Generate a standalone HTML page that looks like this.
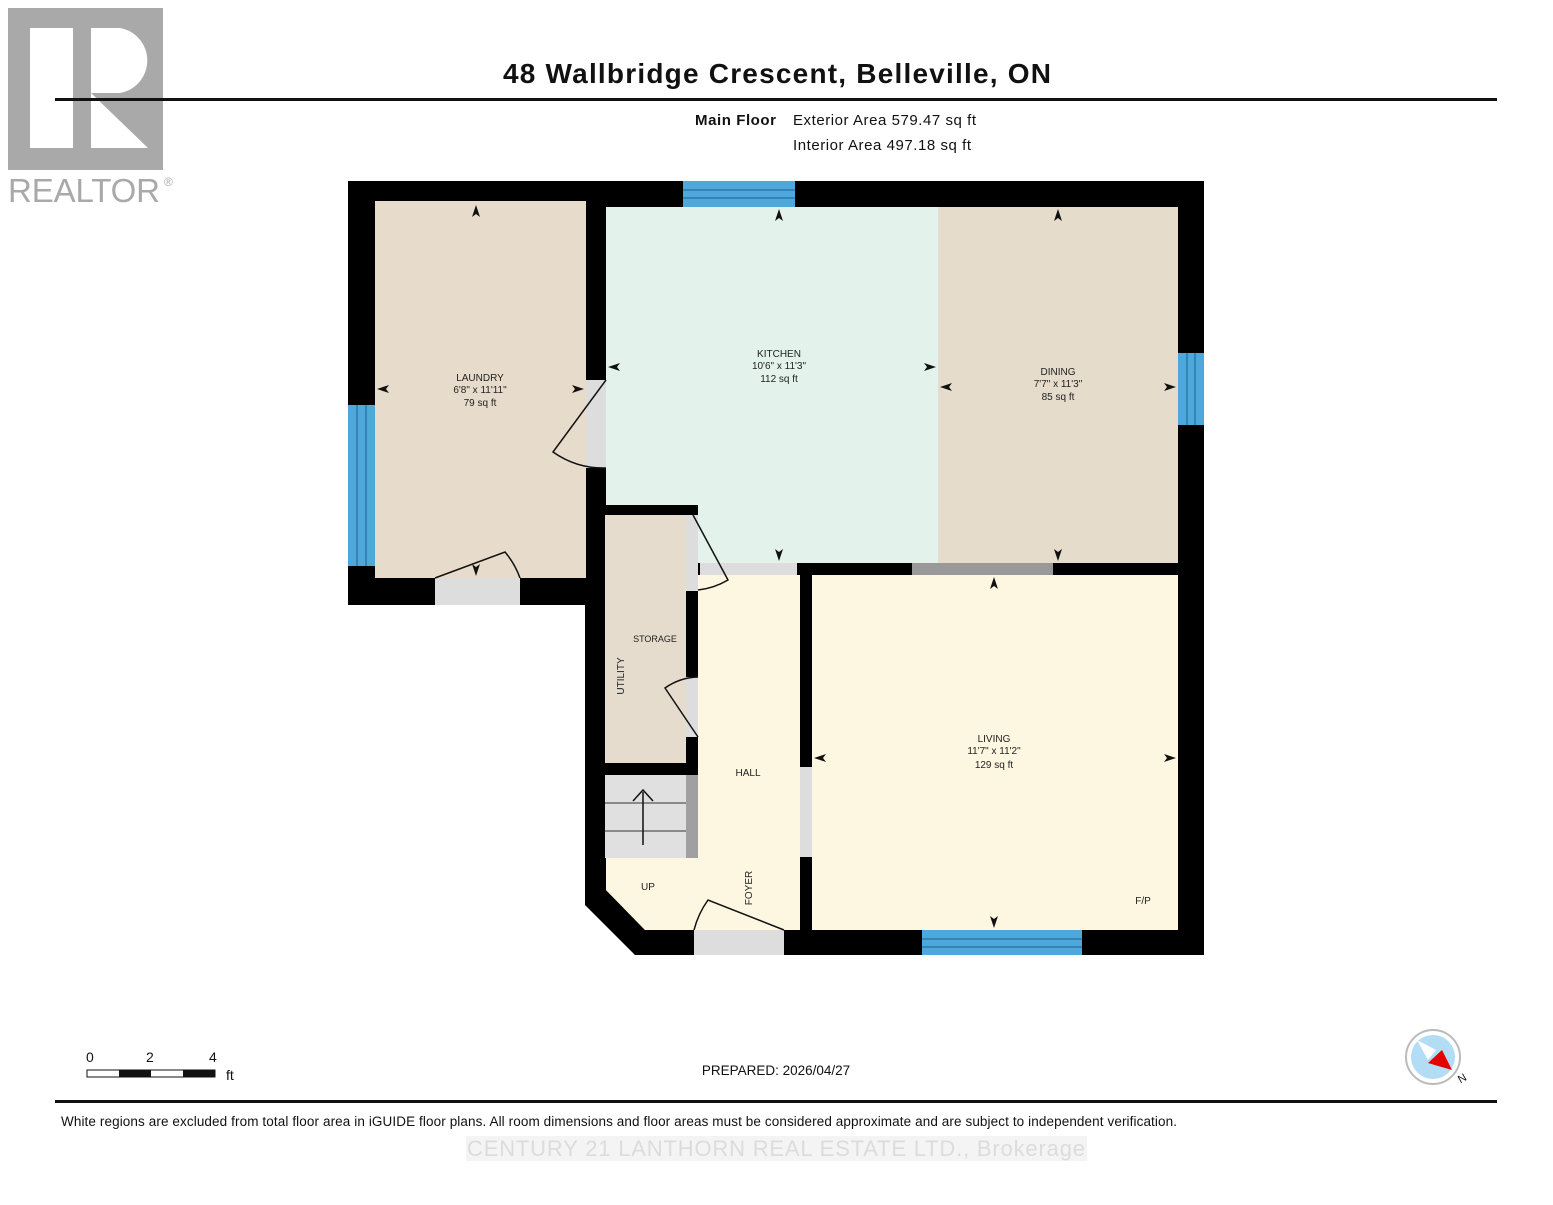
<!DOCTYPE html>
<html><head><meta charset="utf-8"><style>
body{margin:0;background:#fff;width:1553px;height:1200px;overflow:hidden;font-family:"Liberation Sans",Arial,sans-serif}
</style></head><body>
<svg width="1553" height="1200" xmlns="http://www.w3.org/2000/svg" font-family="Liberation Sans, Arial, sans-serif">
<!-- logo -->
<rect x="8" y="8" width="155" height="162" fill="#a9a9a9"/>
<rect x="30" y="28" width="43" height="120" fill="#fff"/>
<path d="M91 28 H120 A33 33 0 0 1 120 93 H91 Z" fill="#fff"/>
<path d="M91 93 L148 148 H91 Z" fill="#fff"/>
<text x="8" y="202" font-size="33" fill="#a9a9a9" textLength="152">REALTOR</text>
<text x="164" y="186" font-size="12" fill="#a9a9a9">®</text>
<text x="777" y="83" font-size="28" font-weight="bold" text-anchor="middle" fill="#111" textLength="548">48 Wallbridge Crescent, Belleville, ON</text>
<rect x="55" y="98" width="1442" height="3" fill="#111"/>
<text x="695" y="125" font-size="15" font-weight="bold" fill="#111" textLength="81">Main Floor</text>
<text x="793" y="125" font-size="15" fill="#111" textLength="183">Exterior Area 579.47 sq ft</text>
<text x="793" y="150" font-size="15" fill="#111" textLength="178">Interior Area 497.18 sq ft</text>
<!-- walls background -->
<rect x="348" y="181" width="856" height="26" fill="#000"/>
<rect x="348" y="181" width="27" height="424" fill="#000"/>
<rect x="348" y="578" width="258" height="27" fill="#000"/>
<rect x="1178" y="181" width="26" height="774" fill="#000"/>
<path d="M585 201 H606 V890 L645 930 H1204 V955 H635 L585 905 Z" fill="#000"/>
<!-- rooms -->
<rect x="375" y="201" width="211" height="377" fill="#e7dccb"/>
<rect x="606" y="207" width="332" height="356" fill="#e3f2ea"/>
<rect x="938" y="207" width="240" height="356" fill="#e5dccb"/>
<rect x="800" y="563" width="404" height="12" fill="#000"/>
<rect x="686" y="563" width="126" height="12" fill="#000"/>
<rect x="812" y="575" width="366" height="355" fill="#fdf6e1"/>
<rect x="698" y="575" width="102" height="355" fill="#fdf6e1"/>
<path d="M606 858 H698 V930 H645 L606 890 Z" fill="#fdf6e1"/>
<rect x="800" y="563" width="12" height="392" fill="#000"/>
<rect x="605" y="505" width="93" height="10" fill="#000"/>
<rect x="686" y="505" width="12" height="353" fill="#000"/>
<rect x="605" y="515" width="81" height="248" fill="#e6dccd"/>
<rect x="605" y="763" width="93" height="12" fill="#000"/>
<rect x="605" y="775" width="81" height="83" fill="#e0e0e0"/>
<rect x="686" y="775" width="12" height="83" fill="#a0a0a0"/>
<line x1="605" y1="803" x2="686" y2="803" stroke="#333"/>
<line x1="605" y1="831" x2="686" y2="831" stroke="#333"/>
<line x1="643" y1="845" x2="643" y2="792" stroke="#111" stroke-width="1.5"/>
<path d="M633 801 L643 790 L653 801" fill="none" stroke="#111" stroke-width="1.5"/>
<!-- door gaps -->
<rect x="435" y="578" width="85" height="27" fill="#ddd"/>
<rect x="586" y="380" width="20" height="88" fill="#ddd"/>
<rect x="686" y="515" width="12" height="76" fill="#ddd"/>
<rect x="686" y="677" width="12" height="60" fill="#ddd"/>
<rect x="700" y="563" width="97" height="12" fill="#ddd"/>
<rect x="800" y="767" width="12" height="90" fill="#ddd"/>
<rect x="694" y="930" width="90" height="25" fill="#ddd"/>
<rect x="912" y="563" width="141" height="12" fill="#999"/>
<!-- windows -->
<rect x="683" y="181" width="112" height="26" fill="#4ea8dc"/>
<rect x="1178" y="353" width="26" height="72" fill="#4ea8dc"/>
<rect x="348" y="405" width="27" height="161" fill="#4ea8dc"/>
<rect x="922" y="930" width="160" height="25" fill="#4ea8dc"/>
<g stroke="#1d5f8a" stroke-width="1"><line x1="683" y1="190" x2="795" y2="190"/><line x1="683" y1="198" x2="795" y2="198"/><line x1="1187" y1="353" x2="1187" y2="425"/><line x1="1195" y1="353" x2="1195" y2="425"/><line x1="357" y1="405" x2="357" y2="566"/><line x1="366" y1="405" x2="366" y2="566"/><line x1="922" y1="939" x2="1082" y2="939"/><line x1="922" y1="947" x2="1082" y2="947"/></g>
<!-- door swings -->
<g fill="none" stroke="#111" stroke-width="1.5">
<path d="M435 578 L505 552 A85 85 0 0 1 520 578"/>
<path d="M606 380 L553 452 A88 88 0 0 0 606 468"/>
<path d="M693 515 L728 580 A76 76 0 0 1 698 590"/>
<path d="M698 737 L665 688 A60 60 0 0 1 698 677"/>
<path d="M784 930 L708 900 A90 90 0 0 0 694 930"/>
</g>
<!-- arrows -->
<g fill="#111">
<path d="M476 205 l-4 12 4-3 4 3z"/><path d="M779 209 l-4 12 4-3 4 3z"/><path d="M1058 209 l-4 12 4-3 4 3z"/><path d="M994 577 l-4 12 4-3 4 3z"/>
<path d="M779 561 l-4 -12 4 3 4 -3z"/><path d="M1058 561 l-4 -12 4 3 4 -3z"/><path d="M994 928 l-4 -12 4 3 4 -3z"/><path d="M476 576 l-4 -12 4 3 4 -3z"/>
<path d="M377 389 l12 -4 -3 4 3 4z"/><path d="M608 367 l12 -4 -3 4 3 4z"/><path d="M940 387 l12 -4 -3 4 3 4z"/><path d="M814 758 l12 -4 -3 4 3 4z"/>
<path d="M584 389 l-12 -4 3 4 -3 4z"/><path d="M936 367 l-12 -4 3 4 -3 4z"/><path d="M1176 387 l-12 -4 3 4 -3 4z"/><path d="M1176 758 l-12 -4 3 4 -3 4z"/>
</g>
<!-- labels -->
<g font-size="10" fill="#222" text-anchor="middle">
<text x="480" y="381">LAUNDRY</text><text x="480" y="393">6'8" x 11'11"</text><text x="480" y="406">79 sq ft</text>
<text x="779" y="357">KITCHEN</text><text x="779" y="369">10'6" x 11'3"</text><text x="779" y="382">112 sq ft</text>
<text x="1058" y="375">DINING</text><text x="1058" y="387">7'7" x 11'3"</text><text x="1058" y="400">85 sq ft</text>
<text x="994" y="742">LIVING</text><text x="994" y="754">11'7" x 11'2"</text><text x="994" y="768">129 sq ft</text>
<text x="655" y="642" font-size="9">STORAGE</text>
<text x="748" y="776">HALL</text>
<text x="648" y="890">UP</text>
<text x="1143" y="904">F/P</text>
<text transform="translate(624 676) rotate(-90)">UTILITY</text>
<text transform="translate(752 888) rotate(-90)">FOYER</text>
</g>
<!-- scale -->
<g font-size="14" fill="#111">
<text x="86" y="1062">0</text><text x="146" y="1062">2</text><text x="209" y="1062">4</text><text x="226" y="1080">ft</text>
</g>
<rect x="87" y="1070" width="128" height="7" fill="#fff" stroke="#111"/>
<rect x="119" y="1070" width="32" height="7" fill="#111"/><rect x="183" y="1070" width="32" height="7" fill="#111"/>
<text x="776" y="1075" font-size="13.5" text-anchor="middle" fill="#111">PREPARED: 2026/04/27</text>
<!-- compass -->
<circle cx="1433" cy="1057" r="27" fill="#fff" stroke="#bbb" stroke-width="2"/>
<circle cx="1433" cy="1057" r="22" fill="#b3dcf5"/>
<path d="M1417 1040 L1436 1050 L1428 1060 Z" fill="#fff"/>
<path d="M1442 1050 L1452 1070 L1428 1063 Z" fill="#e30000"/>
<text x="1458" y="1082" font-size="11" fill="#111" transform="rotate(-30 1462 1078)">N</text>
<rect x="55" y="1100" width="1442" height="3" fill="#111"/>
<text x="61" y="1126" font-size="13.5" fill="#111" textLength="1116">White regions are excluded from total floor area in iGUIDE floor plans. All room dimensions and floor areas must be considered approximate and are subject to independent verification.</text>
<rect x="466" y="1136" width="621" height="25" fill="#f4f4f4"/>
<text x="776" y="1156" font-size="22" text-anchor="middle" fill="#dcdcdc" textLength="618">CENTURY 21 LANTHORN REAL ESTATE LTD., Brokerage</text>
</svg>
</body></html>
